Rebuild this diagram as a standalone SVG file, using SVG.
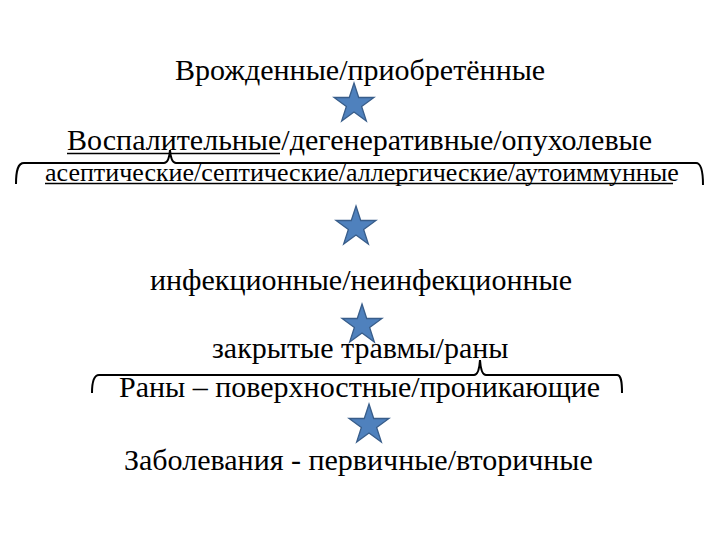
<svg xmlns="http://www.w3.org/2000/svg" width="720" height="540" viewBox="0 0 720 540">
<defs>
<path id="star" fill="#4F81BD" stroke="#385D8A" stroke-width="1.3" d="M0,-21 L4.71,-6.49 L19.97,-6.49 L7.63,2.48 L12.34,16.99 L0,8.02 L-12.34,16.99 L-7.63,2.48 L-19.97,-6.49 L-4.71,-6.49 Z"/>
</defs>
<rect width="720" height="540" fill="#fff"/>
<g id="n1"><text x="175" y="80" font-size="30" font-family="Liberation Serif">Врожденные/приобретённые</text></g>
<g id="n2"><text x="67" y="150" font-size="30" font-family="Liberation Serif">Воспалительные/дегенеративные/опухолевые</text>
<line x1="67" y1="153.5" x2="280" y2="153.5" stroke="#000" stroke-width="1.5"/></g>
<g id="n3"><text x="45" y="180.5" font-size="26" font-family="Liberation Serif">асептические/септические/аллергические/аутоиммунные</text>
<line x1="45" y1="183.5" x2="673" y2="183.5" stroke="#000" stroke-width="1.5"/></g>
<g id="n4"><text x="150" y="290" font-size="30" font-family="Liberation Serif">инфекционные/неинфекционные</text></g>
<g id="n5"><text x="212" y="358" font-size="30" font-family="Liberation Serif">закрытые травмы/раны</text></g>
<g id="n6"><text x="119" y="397" font-size="30" font-family="Liberation Serif">Раны – поверхностные/проникающие</text></g>
<g id="n7"><text x="124" y="470" font-size="30" font-family="Liberation Serif">Заболевания - первичные/вторичные</text></g>
<g id="connectors" fill="none" stroke="#000" stroke-width="2">
<use href="#star" x="354" y="104"/>
<use href="#star" x="356" y="227"/>
<use href="#star" x="362" y="325"/>
<use href="#star" x="369" y="425"/>
<path d="M16,184 C16,170 18,163 24,163 L164,163 Q169,163 170,150 Q171,163 176,163 L696,163 C701,163 703,170 703,185"/>
<path d="M92,393 C92,381 94,375 99,375 L474,375 Q479,375 480,360 Q481,375 486,375 L617,375 C621,375 622,381 622,393"/>
</g>
</svg>
